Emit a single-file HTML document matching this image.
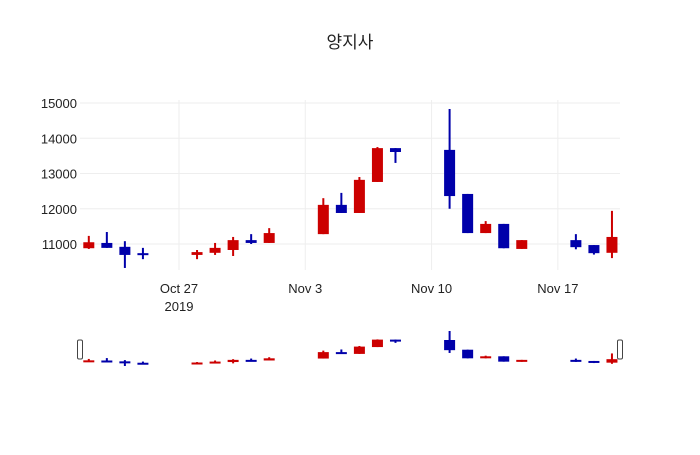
<!DOCTYPE html>
<html><head><meta charset="utf-8"><style>
body{margin:0;background:#fff}
svg text{font-family:"Liberation Sans","Noto Sans CJK KR",sans-serif;fill:#222}
</style></head><body>
<svg id="chart" width="700" height="450" xmlns="http://www.w3.org/2000/svg">
<text x="350" y="48" text-anchor="middle" font-size="17">양지사</text>
<g id="grid"></g><g id="main"></g><g id="slider"></g><g id="axes"></g>
</svg>
<script>
const dates=[-5,-4,-3,-2,1,2,3,4,5,8,9,10,11,12,15,16,17,18,19,22,23,24]; // days from Oct 27
const opens=[10880,11030,10920,10740,10690,10750,10830,11110,11030,11280,12110,11880,12760,13720,13670,12420,11310,11570,10860,11110,10970,10750];
const highs=[11230,11340,11080,10890,10830,11030,11200,11280,11450,12300,12450,12900,13750,13720,14830,12420,11650,11570,11110,11280,10970,11940];
const lows=[10860,10890,10320,10570,10570,10690,10660,11000,11030,11280,11880,11880,12760,13300,12000,11310,11310,10880,10860,10850,10700,10600];
const closes=[11050,10890,10690,10690,10770,10890,11110,11030,11310,12110,11880,12820,13720,13610,12360,11310,11570,10880,11110,10910,10740,11200];
const yTicks=[11000,12000,13000,14000,15000];
const xTickDays=[0,7,14,21];
const xTickLabels=["Oct 27","Nov 3","Nov 10","Nov 17"];
const NS="http://www.w3.org/2000/svg";
const X=d=>179+d*18.04;
const Y=v=>244-(v-11000)*0.03525;
const minL=Math.min(...lows),maxH=Math.max(...highs);
const SY=v=>366-(v-minL)/(maxH-minL)*35;
function mk(t,a,p){const e=document.createElementNS(NS,t);for(const k in a)e.setAttribute(k,a[k]);p.appendChild(e);return e;}
const grid=document.getElementById('grid'),axes=document.getElementById('axes'),main=document.getElementById('main'),sl=document.getElementById('slider');
yTicks.forEach(v=>{const l=mk('line',{x1:80,x2:620,y1:Y(v),y2:Y(v),stroke:'#eee'},grid);

const t=mk('text',{x:77,y:Y(v)+5,'text-anchor':'end','font-size':13},axes);t.textContent=v;
});
xTickDays.forEach((d,i)=>{const l=mk('line',{x1:X(d),x2:X(d),y1:100,y2:270,stroke:'#eee'},grid);

const t=mk('text',{x:X(d),y:293,'text-anchor':'middle','font-size':13},axes);t.textContent=xTickLabels[i];
});
const yr=mk('text',{x:X(0),y:311,'text-anchor':'middle','font-size':13},axes);yr.textContent='2019';

function candle(p,i,yf,w){const inc=closes[i]>=opens[i];const c=inc?'#cc0000':'#0000aa';const x=X(dates[i]);
const g=mk('g',{},p);
mk('line',{x1:x,x2:x,y1:yf(highs[i]),y2:yf(lows[i]),stroke:c,'stroke-width':2},g);
const t=Math.min(yf(opens[i]),yf(closes[i]));const h=Math.max(Math.abs(yf(opens[i])-yf(closes[i])),2);
mk('rect',{x:x-w/2,y:t,width:w,height:h,fill:c},g);}
dates.forEach((d,i)=>{candle(main,i,Y,11);candle(sl,i,SY,11);});
[80,620].forEach(x=>{const r=mk('rect',{x:x-2.5,y:340,width:5,height:19,rx:1.5,fill:'#fff',stroke:'#444','stroke-width':1},sl);
});
</script>
</body></html>
